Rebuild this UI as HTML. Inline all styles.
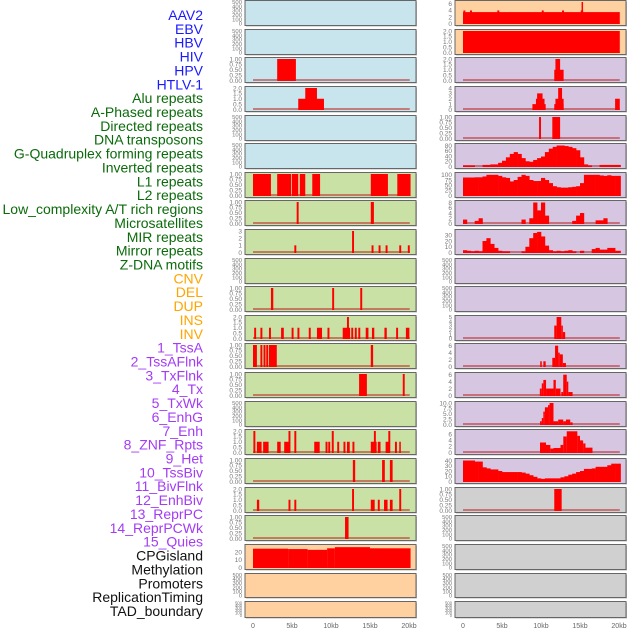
<!DOCTYPE html>
<html><head><meta charset="utf-8"><style>
html,body{margin:0;padding:0;background:#fff;}
svg{display:block;font-family:"Liberation Sans",sans-serif;}
</style></head><body>
<svg id="chart" width="630" height="630" viewBox="0 0 630 630"></svg>
<script>
// ---- labels ----
const trackLabels = ["AAV2","EBV","HBV","HIV","HPV","HTLV-1","Alu repeats","A-Phased repeats","Directed repeats","DNA transposons","G-Quadruplex forming repeats","Inverted repeats","L1 repeats","L2 repeats","Low_complexity A/T rich regions","Microsatellites","MIR repeats","Mirror repeats","Z-DNA motifs","CNV","DEL","DUP","INS","INV","1_TssA","2_TssAFlnk","3_TxFlnk","4_Tx","5_TxWk","6_EnhG","7_Enh","8_ZNF_Rpts","9_Het","10_TssBiv","11_BivFlnk","12_EnhBiv","13_ReprPC","14_ReprPCWk","15_Quies","CPGisland","Methylation","Promoters","ReplicationTiming","TAD_boundary"];
const labelGroups = [6,13,5,15,5];
const groupColors = ["#1a1aff","#0b6b0b","#ffa500","#a33cf5","#111111"];
const xTickKb = [0,5,10,15,20];
const xTickLabels = ["0","5kb","10kb","15kb","20kb"];

// ---- left column data: segments [startKb, endKb, value] ----
const segHIV = [[3.1,5.5,1]];
const segHTLV = [[5.8,9.1,1],[6.7,8.2,2]];
const segL1Left = [[0,2.3,1],[3.1,4.9,1],[5.0,5.8,1],[6.0,6.7,1],[7.6,8.6,1],[15.1,17.3,1],[18.5,20.2,1]];
const segL2Left = [[5.6,5.85,1],[15.1,15.5,1]];
const segLowCx = [[5.3,5.55,1],[12.7,12.95,3],[15.2,15.45,1],[16.1,16.35,1],[17.0,17.25,1],[18.75,19.0,1],[19.85,20.1,1]];
const segMirror = [[2.3,2.6,1],[10.15,10.4,1],[13.75,14.0,1]];
const segZdna = [[0.15,0.4,1],[0.95,1.2,1],[2.05,2.3,1],[3.6,3.95,1],[4.95,5.2,1],[5.7,5.95,1],[7.15,7.4,1],[8.2,8.85,1],[9.55,9.8,1],[11.5,12.45,1],[12.05,12.3,2],[12.6,12.85,1],[13.05,13.3,1],[13.5,13.75,1],[14.45,14.8,1],[15.25,15.55,1],[16.85,17.15,1],[18.35,18.6,1],[19.6,20.05,1]];
const segCNV = [[0,0.5,1],[0.95,1.2,1],[1.35,1.6,1],[1.7,1.95,1],[2.05,3.05,1],[15.1,15.4,1]];
const segDEL = [[13.6,14.6,1],[19.2,19.45,1]];
const segINS = [[0.05,0.3,2],[0.5,1.1,1],[1.3,2.0,1],[3.1,3.55,1],[4.0,4.55,1],[4.55,4.8,2],[5.3,5.55,2],[7.85,8.55,1],[9.3,9.55,1],[9.65,9.9,1],[10.1,10.35,2],[10.8,11.05,1],[11.6,11.85,1],[12.05,12.4,1],[12.75,13.0,1],[15.1,15.85,1],[15.5,15.75,2],[16.0,16.35,1],[17.0,17.45,1],[17.35,17.6,2],[18.2,18.45,1],[18.75,18.95,1]];
const segINV = [[12.8,13.1,1],[16.55,16.9,1],[17.55,17.9,1]];
const segTssA = [[0.5,0.8,1],[4.55,4.8,1],[5.3,5.55,1],[12.7,12.95,2],[15.1,15.6,1],[16.0,16.25,1],[16.8,17.25,1],[17.55,17.9,1],[18.75,19.0,2]];
const segTssAFlnk = [[11.8,12.25,1]];
const segCPG = [[0,4.5,24.5],[4.5,7,24],[7,9.5,23],[9.5,10.5,25],[10.5,15,26.5],[15,20.2,25]];

// ---- right column data ----
const segAAV2R = [[0,20.1,3.5],[0.05,0.3,4],[0.9,1.15,4],[4.4,4.65,4],[10.1,10.35,4],[12.7,12.95,4],[15.1,15.4,4],[15.2,15.35,7]];
const segEBVR = [[0,20.1,2]];
const segHBVR = [[11.7,12.9,1],[11.85,12.45,2]];
const segHIVR = [[8.9,10.6,1],[9.35,10.45,2],[9.5,10.2,3],[11.7,12.9,1],[11.85,12.9,2],[12.2,12.7,4],[19.5,20.1,2]];
const segHPVR = [[9.75,10.0,1],[11.45,12.45,1]];
const binGquad = [4,4,4,0,0,6,6,8,8,14,22,35,48,55,48,32,20,18,25,32,38,55,68,75,80,80,78,75,70,62,35,8,4,0,0,6,6,6,6,6,6];
const binL1R = [87,87,87,88,88,92,100,100,100,95,88,85,68,75,90,100,95,75,70,70,85,75,60,45,40,38,38,40,42,45,60,100,100,100,100,97,95,98,95,95,95];
const binL2R = [1.5,0,0,1,2,0,0,0,0,0,0,0,0,0,0,1.5,0,2,8,5,8,3,0,0,0,0,0,0,1,3,4,0,0,0,1.2,1.2,2,0,0,0,0];
const binLowCxR = [4,3,2,3,2,20,25,15,8,3,2,2,0,0,0,2,10,25,34,36,28,12,4,2,3,2,3,4,2,0,3,0,0,6,8,5,5,8,8,3,3];
const segInvR = [[11.7,12.0,3],[12.0,12.6,5],[12.6,12.8,3],[12.8,13.1,1.5]];
const segTssAR = [[9.9,10.1,1.5],[10.3,10.6,1.5],[11.45,11.8,2.5],[11.8,12.2,6],[12.2,12.4,4],[12.4,12.8,3.5],[12.8,13.2,1]];
const segTssAFlnkR = [[9.85,10.1,2],[10.1,10.3,3.5],[10.3,10.65,4.5],[10.65,11.6,2],[11.6,11.9,4.5],[11.9,12.5,2],[12.6,12.85,1],[12.85,13.3,6],[13.3,13.5,4],[13.5,14.05,1]];
const segTxFlnkR = [[9.87,10.1,1.5],[10.1,10.3,3],[10.3,10.5,6],[10.5,10.9,8],[10.9,11.1,9],[11.1,11.6,10],[11.6,12.2,1.5],[12.2,12.85,2.3],[12.85,13.2,1.5],[13.2,13.75,2.3],[13.75,14.05,1]];
const segTxR = [[9.87,10.64,3.3],[10.64,11.2,2.5],[11.2,11.6,1.3],[11.6,12.5,1.5],[12.5,12.86,2.5],[12.86,13.3,5.3],[13.3,14.66,7],[14.66,15.0,5.5],[15.0,15.4,4],[15.4,15.7,3],[15.7,16.6,1.6]];
const binTxWkR = [40,40,40,38,38,27,25,23,23,20,18,18,18,18,18,17,15,12,9,6,5,6,6,6,6,8,10,13,15,18,20,24,24,25,28,28,28,31,34,34,34];
const segEnhGR = [[11.7,12.65,1]];

// ---- tick sets ----
const tEmpty = [0,100,200,300,400,500];
const t1 = [0,0.25,0.5,0.75,1];
const t2 = [0,0.5,1,1.5,2];

const BLUE="#c8e4ec", GREEN="#c9e1a5", ORANGE="#ffd1a0", PURPLE="#d6c6e2", GREY="#d0d0d0";
const rowTops=[0,29,57,86,115,143,172,200,229,258,286,315,343,372,401,429,458,487,515,544,573,601];
const E = null;
// [bg, ymax, ticks, decimals, segments, bins]
const leftRows = [
 [BLUE,500,tEmpty,0,E,E],[BLUE,500,tEmpty,0,E,E],[BLUE,1,t1,2,segHIV,E],[BLUE,2,t2,1,segHTLV,E],[BLUE,500,tEmpty,0,E,E],[BLUE,500,tEmpty,0,E,E],
 [GREEN,1,t1,2,segL1Left,E],[GREEN,1,t1,2,segL2Left,E],[GREEN,3,[0,1,2,3],0,segLowCx,E],[GREEN,500,tEmpty,0,E,E],[GREEN,1,t1,2,segMirror,E],[GREEN,2,t2,1,segZdna,E],
 [GREEN,1,t1,2,segCNV,E],[GREEN,1,t1,2,segDEL,E],[GREEN,500,tEmpty,0,E,E],[GREEN,2,t2,1,segINS,E],[GREEN,1,t1,2,segINV,E],[GREEN,2,t2,1,segTssA,E],[GREEN,1,t1,2,segTssAFlnk,E],
 [ORANGE,28,[0,10,20],0,segCPG,E],[ORANGE,500,tEmpty,0,E,E],[ORANGE,500,tEmpty,0,E,E]];
const rightRows = [
 [ORANGE,6.6,[0,2,4,6],0,segAAV2R,E],[ORANGE,2,t2,1,segEBVR,E],
 [PURPLE,2,t2,1,segHBVR,E],[PURPLE,4,[0,1,2,3,4],0,segHIVR,E],[PURPLE,1,t1,2,segHPVR,E],[PURPLE,82,[0,20,40,60,80],0,E,binGquad],
 [PURPLE,104,[0,25,50,75,100],0,E,binL1R],[PURPLE,8.2,[0,2,4,6,8],0,E,binL2R],[PURPLE,37.5,[0,10,20,30],0,E,binLowCxR],[PURPLE,500,tEmpty,0,E,E],[PURPLE,500,tEmpty,0,E,E],
 [PURPLE,5,[0,1,2,3,4,5],0,segInvR,E],[PURPLE,6.2,[0,2,4,6],0,segTssAR,E],[PURPLE,6.2,[0,2,4,6],0,segTssAFlnkR,E],[PURPLE,10,[0,2.5,5,7.5,10],1,segTxFlnkR,E],
 [PURPLE,7.1,[0,2,4,6],0,segTxR,E],[PURPLE,41,[0,10,20,30,40],0,E,binTxWkR],
 [GREY,1,t1,2,segEnhGR,E],[GREY,500,tEmpty,0,E,E],[GREY,500,tEmpty,0,E,E],[GREY,500,tEmpty,0,E,E],[GREY,500,tEmpty,0,E,E]];

const NS="http://www.w3.org/2000/svg";
const svg=document.getElementById("chart");
function mk(tag,attrs,parent){const e=document.createElementNS(NS,tag);for(const k in attrs)e.setAttribute(k,attrs[k]);(parent||svg).appendChild(e);return e;}

// labels
let li=0;
labelGroups.forEach((n,g)=>{for(let k=0;k<n;k++){
  const t=mk("text",{x:203,y:(15+li*13.86+5).toFixed(1),"text-anchor":"end","font-size":"14",fill:groupColors[g]});
  t.textContent=trackLabels[li];
  
  
  li++;}});

function drawPanel(cfg,row,colX,zeroX,side){
  const [bg,ymax,ticks,dec,segs,bins]=cfg;
  const top=rowTops[row]+0.5, h=(row===21?16:(row===20?24:25));
  const yt=top+1.5, yb=top+h-2;
  const ys=v=>yb-Math.min(v,ymax)/ymax*(yb-yt);
  const xs=kb=>zeroX+kb*7.8;
  const g=mk("g",{});
  
  
  mk("rect",{x:colX+1,y:top+1,width:171,height:h,fill:"#bbb"},g);
  const r=mk("rect",{x:colX,y:top,width:171,height:h,fill:bg,stroke:"#666","stroke-width":1},g);
  
  
  // ticks
  const fs=Math.min(6.5,(yb-yt)/(ticks.length-1)+1.6);
  ticks.forEach(v=>{
    const t=mk("text",{x:colX-3,y:(ys(v)+fs*0.35).toFixed(1),"text-anchor":"end","font-size":fs.toFixed(1),fill:"#777"},g);
    t.textContent=v.toFixed(dec);
    
    
  });
  if(segs||bins){
    const bl=mk("rect",{x:xs(0),y:yb-1.5,width:xs(20.1)-xs(0),height:2,fill:"rgba(190,40,40,0.55)"},g);
    
    
  }
  if(segs){segs.forEach(s=>{
    const b=mk("rect",{x:xs(s[0]).toFixed(2),y:ys(s[2]).toFixed(2),width:Math.max(1.5,xs(s[1])-xs(s[0])).toFixed(2),height:(yb-ys(s[2])+0.5).toFixed(2),fill:"#ff0000"},g);
    
    
  });}
  if(bins){bins.forEach((v,i)=>{
    if(v<=0)return;
    const s=i*0.5,e=Math.min(20.2,s+0.5);
    const b=mk("rect",{x:xs(s).toFixed(2),y:ys(v).toFixed(2),width:(xs(e)-xs(s)+0.3).toFixed(2),height:(yb-ys(v)+0.5).toFixed(2),fill:"#ff0000"},g);
    
    
  });}
}
leftRows.forEach((c,i)=>drawPanel(c,i,245,253,'left'));
rightRows.forEach((c,i)=>drawPanel(c,i,455,463,'right'));

// x axes
[253,463].forEach(z=>{xTickKb.forEach((kb,i)=>{
  const t=mk("text",{x:z+kb*7.8,y:628,"text-anchor":"middle","font-size":"7",fill:"#666"});
  t.textContent=xTickLabels[i];
  
  
});});
</script>
</body></html>
